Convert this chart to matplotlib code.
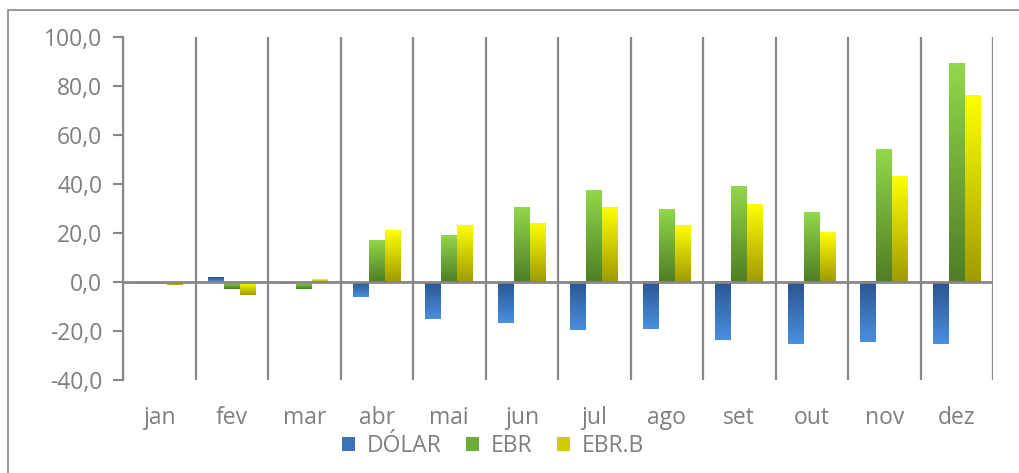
import numpy as np
import matplotlib.pyplot as plt
from matplotlib.colors import LinearSegmentedColormap
from matplotlib.patches import Rectangle, Patch

meses = ['jan', 'fev', 'mar', 'abr', 'mai', 'jun', 'jul', 'ago', 'set', 'out', 'nov', 'dez']
dolar = [-0.8, 2.0, -0.8, -6.0, -15.0, -16.6, -19.6, -19.2, -23.7, -25.3, -24.5, -25.3]
ebr = [-0.8, -2.7, -2.7, 17.1, 18.8, 30.6, 37.5, 29.4, 38.8, 28.5, 53.9, 89.0]
ebr_b = [-1.2, -5.2, 1.0, 21.2, 22.9, 23.7, 30.6, 22.9, 31.8, 20.4, 42.9, 76.3]
series = ['DÓLAR', 'EBR', 'EBR.B']

# gradient (top colour, bottom colour) per series
grads = [('#2b5590', '#4a8fe0'), ('#92d84a', '#4e7d24'), ('#ffff00', '#a09a00')]

plt.rcParams['font.family'] = ['Open Sans', 'DejaVu Sans']
grey = '#878787'
txt = '#7f7f7f'
fs = 16.5

fig = plt.figure(figsize=(10.19, 4.73), dpi=100)
ax = fig.add_axes([123 / 1019, 1 - 380 / 473, 870 / 1019, 343 / 473])

x = np.arange(len(meses))
w = 0.22
grad = np.linspace(0, 1, 256).reshape(-1, 1)
for k, vals in enumerate([dolar, ebr, ebr_b]):
    cmap = LinearSegmentedColormap.from_list(series[k], grads[k])
    bars = ax.bar(x + (k - 1) * w, vals, w, color='none', zorder=2)
    for b in bars:
        x0, y0 = b.get_x(), b.get_y()
        x1, y1 = x0 + b.get_width(), y0 + b.get_height()
        ax.imshow(grad, cmap=cmap, aspect='auto', origin='upper',
                  extent=(x0, x1, min(y0, y1), max(y0, y1)), zorder=2)

for b in np.arange(-0.5, len(meses), 1.0):
    ax.axvline(b, color=grey, lw=1.6, zorder=1)
ax.axhline(0, color=grey, lw=2.0, zorder=3)

ax.set_xlim(-0.5, len(meses) - 0.5)
ax.set_ylim(-40, 100)
ax.set_yticks(np.arange(-40, 101, 20))
ax.set_yticklabels([f'{v:.1f}'.replace('.', ',') for v in np.arange(-40, 101, 20)])
ax.set_xticks(x)
ax.set_xticklabels(meses)
ax.tick_params(axis='x', length=0, pad=19, labelsize=fs, labelcolor=txt)
ax.tick_params(axis='y', length=7, width=1.5, color=grey, pad=8, labelsize=fs, labelcolor=txt)
for s in ['top', 'right', 'bottom']:
    ax.spines[s].set_visible(False)
ax.spines['left'].set_color(grey)
ax.spines['left'].set_linewidth(1.5)

handles = [Patch(facecolor=LinearSegmentedColormap.from_list('h', g)(0.5), edgecolor='none') for g in grads]
fig.legend(handles, series, loc='center', bbox_to_anchor=(493 / 1019, 1 - 446 / 473),
           ncol=3, frameon=False, fontsize=fs, labelcolor=txt, handlelength=0.55,
           handleheight=0.55, handletextpad=0.5, columnspacing=1.1,
           borderpad=0, borderaxespad=0)

fig.add_artist(Rectangle((8 / 1019, -1.0), 2.0, 2.0 - 10 / 473,
                         transform=fig.transFigure, fill=False, ec=grey, lw=1.2))

fig.savefig('out.png', dpi=100)
